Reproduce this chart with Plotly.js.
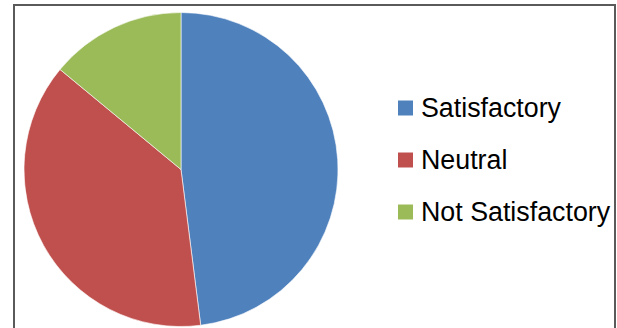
<!DOCTYPE html>
<html>
<head>
<meta charset="utf-8">
<script src="https://cdn.plot.ly/plotly-3.0.1.min.js"></script>
<style>html,body{margin:0;padding:0;background:#fff;}#chart{width:617px;height:328px;}</style>
</head>
<body>
<div id="chart"></div>
<script>
const categories = ["Satisfactory", "Neutral", "Not Satisfactory"];
const values = [48, 38, 14];
const colors = ["#4F81BD", "#C0504D", "#9BBB59"];

const W = 617, H = 328;
const px = x => x / W;
const py = y => 1 - y / H;

const trace = {
  type: "pie",
  labels: categories,
  values: values,
  sort: false,
  direction: "clockwise",
  rotation: 0,
  textinfo: "none",
  hoverinfo: "label+percent",
  showlegend: false,
  marker: {colors: colors, line: {color: "#ffffff", width: 0.6}},
  domain: {x: [px(24), px(338)], y: [py(327), py(12)]}
};

const shapes = [{
  type: "rect", xref: "paper", yref: "paper",
  x0: px(14), x1: px(615), y0: -0.2, y1: py(5),
  line: {color: "#5a5a5a", width: 2}, fillcolor: "rgba(0,0,0,0)"
}];
const annotations = [];
categories.forEach((c, i) => {
  const yc = 108 + i * 52;
  shapes.push({
    type: "rect", xref: "paper", yref: "paper",
    x0: px(398), x1: px(413), y0: py(yc + 7.5), y1: py(yc - 7.5),
    line: {width: 0}, fillcolor: colors[i]
  });
  annotations.push({
    xref: "paper", yref: "paper", x: px(419), y: py(yc),
    xanchor: "left", yanchor: "middle", showarrow: false,
    text: c, font: {family: "Liberation Sans, Arial, sans-serif", size: 26.8, color: "#000"}
  });
});

const layout = {
  width: W, height: H,
  margin: {l: 0, r: 0, t: 0, b: 0, pad: 0},
  paper_bgcolor: "#ffffff",
  plot_bgcolor: "#ffffff",
  showlegend: false,
  shapes: shapes,
  annotations: annotations
};

Plotly.newPlot("chart", [trace], layout, {displayModeBar: false, staticPlot: true});
</script>
</body>
</html>
